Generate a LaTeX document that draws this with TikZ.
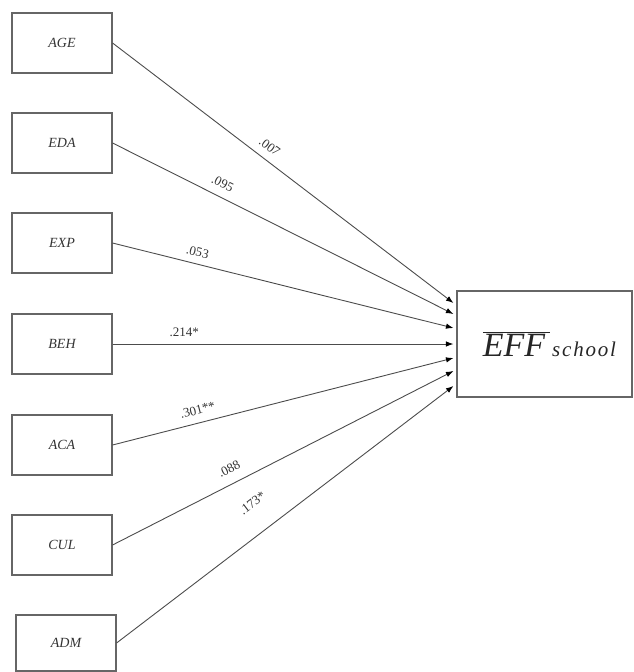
\documentclass[tikz,border=0pt]{standalone}
\usepackage{fontspec}
\setmainfont{Liberation Serif}
\usetikzlibrary{arrows.meta,calc}

\tikzset{
  varbox/.style={draw=black!60, line width=1.1pt, minimum width=100pt, minimum height=60pt,
    inner sep=0pt, font=\fontsize{14}{14}\selectfont\itshape, text=black!80},
  outbox/.style={draw=black!60, line width=1.1pt, minimum width=175pt, minimum height=106pt,
    inner sep=0pt, text=black!85},
  path/.style={draw=black!70, line width=0.9pt,
    -{Latex[length=7.5pt,width=5.5pt,color=black]}},
  coef/.style={sloped, inner sep=0pt, font=\fontsize{13}{13}\selectfont, text=black!80}
}

\begin{document}
\begin{tikzpicture}[x=1pt, y=-1pt]
  \useasboundingbox (0,0) rectangle (633,672);

  % predictor boxes
  \node[varbox] (age) at (62,43)  {AGE};
  \node[varbox] (eda) at (62,143) {EDA};
  \node[varbox] (exp) at (62,243) {EXP};
  \node[varbox] (beh) at (62,344) {BEH};
  \node[varbox] (aca) at (62,445) {ACA};
  \node[varbox] (cul) at (62,545) {CUL};
  \node[varbox, minimum height=56pt] (adm) at (66,643) {ADM};

  % outcome box
  \node[outbox] (eff) at (544.5,344)
    {\hspace{10pt}{\fontsize{34}{34}\selectfont$\overline{\hbox{\itshape EFF\kern5pt}}$}\kern2pt
     {\fontsize{21}{21}\selectfont\itshape s\kern1.8pt c\kern1.8pt h\kern1.8pt o\kern1.8pt o\kern1.8pt l}};

  % arrow tips along the left side of the outcome box
  \coordinate (t1) at ($(eff.west)+(-3,-41)$);
  \coordinate (t2) at ($(eff.west)+(-3,-30)$);
  \coordinate (t3) at ($(eff.west)+(-3,-16)$);
  \coordinate (t4) at ($(eff.west)+(-3,0)$);
  \coordinate (t5) at ($(eff.west)+(-3,14)$);
  \coordinate (t6) at ($(eff.west)+(-3,27)$);
  \coordinate (t7) at ($(eff.west)+(-3,42)$);

  % paths with coefficients
  \draw[path] (age.east) -- node[coef, pos=0.438, above=8pt] {.007} (t1);
  \draw[path] (eda.east) -- node[coef, pos=0.306, above=8pt] {.095} (t2);
  \draw[path] (exp.east) -- node[coef, pos=0.241, above=7pt] {.053} (t3);
  \draw[path] (beh.east) -- node[coef, pos=0.21, above=6.5pt] {.214*} (t4);
  \draw[path] (aca.east) -- node[coef, pos=0.259, above=8pt] {.301**} (t5);
  \draw[path] (cul.east) -- node[coef, pos=0.362, above=10pt] {.088} (t6);
  \draw[path] (adm.east) -- node[coef, pos=0.455, above=24pt] {.173*} (t7);
\end{tikzpicture}
\end{document}
